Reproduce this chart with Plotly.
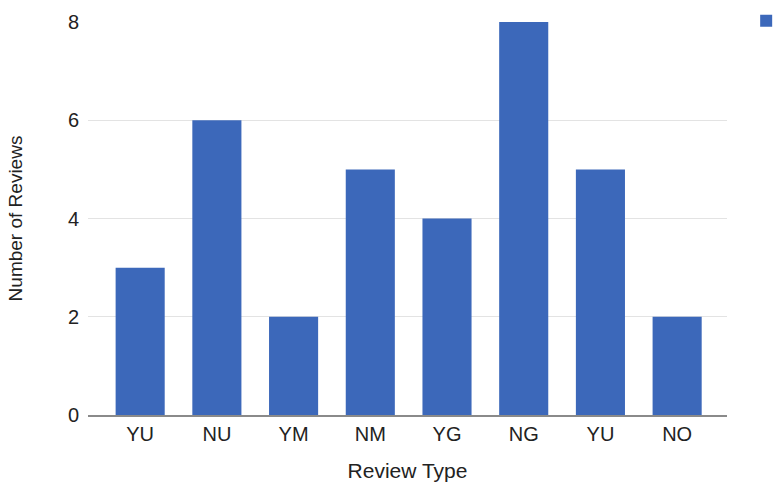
import plotly.graph_objects as go

# Review counts per review type (positions keep the repeated "YU" label separate)
review_types = ["YU", "NU", "YM", "NM", "YG", "NG", "YU", "NO"]
review_counts = [3, 6, 2, 5, 4, 8, 5, 2]
positions = list(range(len(review_types)))

fig = go.Figure(
    go.Bar(
        x=positions,
        y=review_counts,
        name="",
        marker=dict(color="#3C68BA", line=dict(width=0)),
        width=0.64,
        showlegend=True,
    )
)

fig.update_layout(
    width=773,
    height=482,
    margin=dict(l=88, r=46, t=22, b=67, autoexpand=False),
    paper_bgcolor="white",
    plot_bgcolor="white",
    font=dict(family="Liberation Sans, Arial, sans-serif", color="#222222"),
    showlegend=True,
    legend=dict(x=1.03, y=1.048, xanchor="left", yanchor="top",
                font=dict(size=17), bgcolor="rgba(0,0,0,0)",
                itemsizing="constant"),
)

fig.update_xaxes(
    tickmode="array",
    tickvals=positions,
    ticktext=review_types,
    range=[-0.68, 7.65],
    showgrid=False,
    showline=True,
    linecolor="#8a8a8a",
    linewidth=1.5,
    ticks="",
    tickfont=dict(size=20),
    title=dict(text="Review Type", font=dict(size=21), standoff=22),
)

fig.update_yaxes(
    range=[0, 8],
    tickvals=[0, 2, 4, 6, 8],
    showgrid=True,
    gridcolor="#e3e3e3",
    gridwidth=1,
    zeroline=False,
    ticks="",
    ticklabelstandoff=8,
    tickfont=dict(size=20),
    title=dict(text="Number of Reviews", font=dict(size=19), standoff=40),
)

fig.write_html("out.html")
